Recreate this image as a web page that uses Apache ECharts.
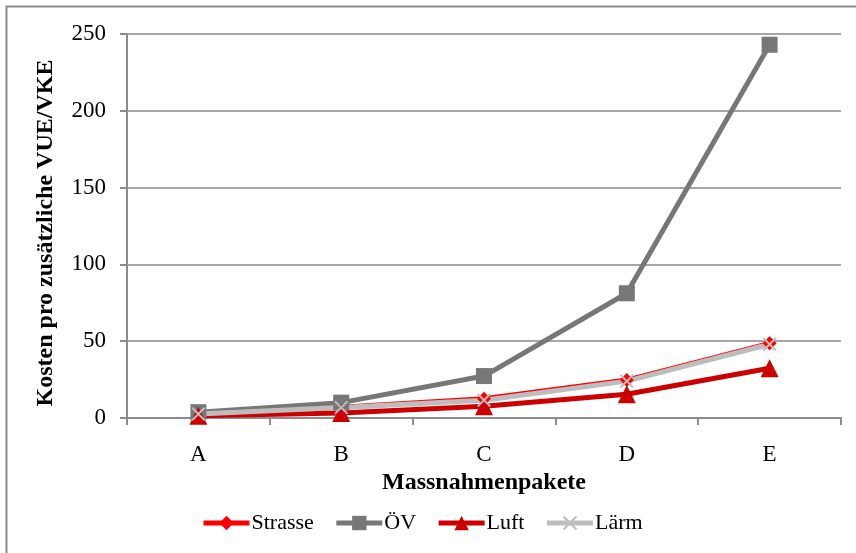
<!DOCTYPE html>
<html>
<head>
<meta charset="utf-8">
<script src="https://cdn.jsdelivr.net/npm/echarts@6/dist/echarts.min.js"></script>
<style>
  html, body { margin: 0; padding: 0; background: #fff; }
  #chart { width: 856px; height: 553px; }
</style>
</head>
<body>
<div id="chart"></div>
<script>
// Massnahmenpakete A–E
const categories = ['A', 'B', 'C', 'D', 'E'];

// Kosten pro zusätzliche VUE/VKE je Bereich
const strasse = [2.6, 7, 12.6, 24.7, 48.6];
const oev     = [3.8, 10, 27.3, 81.2, 243];
const luft    = [1.4, 3.2, 7.6, 15.5, 32.4];
const laerm   = [2.6, 6.8, 11.6, 24, 48];

const yTicks = [0, 50, 100, 150, 200, 250];

const serif = '"Liberation Serif", "DejaVu Serif", serif';
const crossPath = 'path://M0,1L1,0L5,4L9,0L10,1L6,5L10,9L9,10L5,6L1,10L0,9L4,5Z';

const chart = echarts.init(document.getElementById('chart'));

function lineSeries(name, data, color, symbol, size) {
  return {
    name: name,
    type: 'line',
    data: data,
    symbol: symbol,
    symbolSize: size,
    showAllSymbol: true,
    lineStyle: { color: color, width: 5 },
    itemStyle: { color: color },
    emphasis: { disabled: true },
    animation: false
  };
}

chart.setOption({
  backgroundColor: '#ffffff',
  graphic: [{
    type: 'rect',
    shape: { x: 6.5, y: 6.5, width: 900, height: 600 },
    style: { fill: 'none', stroke: '#8c8c8c', lineWidth: 2 },
    silent: true
  }],
  grid: { left: 127, right: 15, top: 34, bottom: 135, containLabel: false },
  xAxis: {
    type: 'category',
    data: categories,
    boundaryGap: true,
    name: 'Massnahmenpakete',
    nameLocation: 'middle',
    nameGap: 49,
    nameTextStyle: { fontFamily: serif, fontSize: 24, fontWeight: 'bold', color: '#000' },
    axisLine: { lineStyle: { color: '#8c8c8c', width: 2 } },
    axisTick: { show: true, alignWithLabel: false, length: 7, lineStyle: { color: '#8c8c8c', width: 2 } },
    axisLabel: { fontFamily: serif, fontSize: 23, color: '#000', margin: 25 },
    splitLine: { show: false }
  },
  yAxis: {
    type: 'value',
    min: 0,
    max: 250,
    interval: 50,
    name: 'Kosten pro zusätzliche VUE/VKE',
    nameLocation: 'middle',
    nameGap: 69,
    nameRotate: 90,
    nameTextStyle: { fontFamily: serif, fontSize: 24, fontWeight: 'bold', color: '#000', padding: [0, 14, 0, 0] },
    axisLine: { show: true, lineStyle: { color: '#8c8c8c', width: 2 } },
    axisTick: { show: true, length: 7, lineStyle: { color: '#8c8c8c', width: 2 } },
    axisLabel: {
      fontFamily: serif, fontSize: 23, color: '#000', margin: 21,
      formatter: v => yTicks.includes(v) ? String(v) : ''
    },
    splitLine: { show: true, lineStyle: { color: '#a6a6a6', width: 2 } }
  },
  legend: {
    top: 507,
    left: 196,
    itemWidth: 46,
    itemHeight: 18,
    itemGap: 20,
    lineStyle: { width: 5 },
    textStyle: { fontFamily: serif, fontSize: 22, color: '#000', padding: [0, 0, 0, -3] },
    data: ['Strasse', 'ÖV', 'Luft', 'Lärm']
  },
  series: [
    lineSeries('Strasse', strasse, '#ff0000', 'diamond', 14),
    lineSeries('ÖV', oev, '#777777', 'rect', 16),
    lineSeries('Luft', luft, '#cc0000', 'triangle', 18),
    lineSeries('Lärm', laerm, '#bdbdbd', crossPath, 14)
  ]
});
</script>
</body>
</html>
